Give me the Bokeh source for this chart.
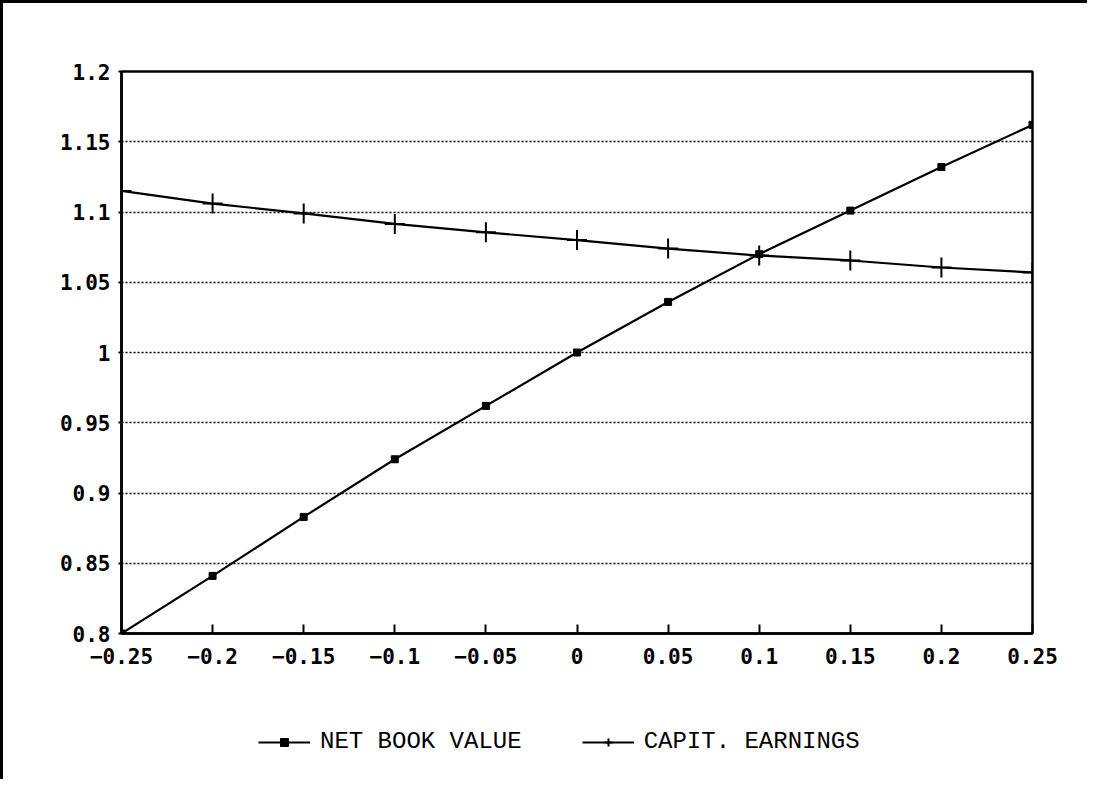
from bokeh.plotting import figure
from bokeh.models import Legend, LegendItem, FixedTicker, Range1d
from bokeh.layouts import column
from bokeh.embed import file_html
from bokeh.resources import INLINE

x_vals = [-0.25, -0.2, -0.15, -0.1, -0.05, 0.0, 0.05, 0.1, 0.15, 0.2, 0.25]
net_book_value = [0.800, 0.841, 0.883, 0.924, 0.962, 1.000, 1.036, 1.070, 1.101, 1.132, 1.162]
capit_earnings = [1.115, 1.106, 1.099, 1.0915, 1.0855, 1.080, 1.074, 1.069, 1.0655, 1.0605, 1.057]
x_ticks = [-0.25, -0.2, -0.15, -0.1, -0.05, 0.0, 0.05, 0.1, 0.15, 0.2, 0.25]
y_ticks = [0.8, 0.85, 0.9, 0.95, 1.0, 1.05, 1.1, 1.15, 1.2]
x_labels = {-0.25: "\u22120.25", -0.2: "\u22120.2", -0.15: "\u22120.15", -0.1: "\u22120.1",
            -0.05: "\u22120.05", 0.0: "0", 0.05: "0.05", 0.1: "0.1", 0.15: "0.15",
            0.2: "0.2", 0.25: "0.25"}
y_labels = {0.8: "0.8", 0.85: "0.85", 0.9: "0.9", 0.95: "0.95", 1.0: "1",
            1.05: "1.05", 1.1: "1.1", 1.15: "1.15", 1.2: "1.2"}
series_names = ["NET BOOK VALUE", "CAPIT. EARNINGS"]

W = 1084
p = figure(width=W, height=680, output_backend="svg", toolbar_location=None,
           x_range=Range1d(-0.25, 0.25), y_range=Range1d(0.8, 1.2),
           min_border_left=118, min_border_right=55, min_border_top=68, min_border_bottom=50)

p.outline_line_color = "black"
p.outline_line_width = 2.5
p.background_fill_color = "white"
p.border_fill_color = "white"

p.xgrid.visible = False
p.ygrid.ticker = FixedTicker(ticks=y_ticks)
p.ygrid.grid_line_color = "black"
p.ygrid.grid_line_dash = "2 2"
p.ygrid.grid_line_width = 1.5

tick_font = "DejaVu Sans Mono"
for ax in (p.xaxis[0], p.yaxis[0]):
    ax.axis_line_color = "black"
    ax.axis_line_width = 2.5
    ax.minor_tick_line_color = None
    ax.major_tick_line_color = "black"
    ax.major_tick_line_width = 2
    ax.major_label_text_font = tick_font
    ax.major_label_text_font_size = "21px"
    ax.major_label_text_font_style = "bold"
    ax.major_label_text_color = "black"

p.xaxis.ticker = FixedTicker(ticks=x_ticks)
p.xaxis.major_label_overrides = x_labels
p.xaxis.major_tick_in = 9
p.xaxis.major_tick_out = 0
p.xaxis.major_label_standoff = 14

p.yaxis.ticker = FixedTicker(ticks=y_ticks)
p.yaxis.major_label_overrides = y_labels
p.yaxis.major_tick_in = 0
p.yaxis.major_tick_out = 3
p.yaxis.major_label_standoff = 8

p.line(x_vals, net_book_value, line_color="black", line_width=2.2)
p.scatter(x_vals, net_book_value, marker="square", size=7, fill_color="black", line_color="black")
p.line(x_vals, capit_earnings, line_color="black", line_width=2.2)
p.scatter(x_vals, capit_earnings, marker="cross", size=20, line_color="black", line_width=2)

# legend strip below the chart
q = figure(width=W, height=96, output_backend="svg", toolbar_location=None,
           x_range=Range1d(0, 1), y_range=Range1d(0, 1),
           min_border_left=0, min_border_right=0, min_border_top=0, min_border_bottom=0)
q.axis.visible = False
q.grid.visible = False
q.outline_line_color = None
q.background_fill_color = "white"
q.border_fill_color = "white"
off = [5.0, 6.0]
a1 = q.line(off, off, line_color="black", line_width=2.2)
b1 = q.scatter(off, off, marker="square", size=7, fill_color="black", line_color="black")
a2 = q.line(off, off, line_color="black", line_width=2.2)
b2 = q.scatter(off, off, marker="cross", size=19, line_color="black", line_width=2)

legend = Legend(items=[LegendItem(label=series_names[0], renderers=[a1, b1]),
                       LegendItem(label=series_names[1], renderers=[a2, b2])],
                orientation="horizontal", location=(137, 24),
                label_text_font="Liberation Mono", label_text_font_size="24px",
                label_text_color="black", glyph_width=52, glyph_height=20,
                spacing=60, label_standoff=10, border_line_color=None,
                background_fill_alpha=0, margin=0, padding=0)
q.add_layout(legend, "center")

layout = column(p, q, spacing=0)
layout.styles = {"border-top": "3px solid black", "border-left": "3px solid black"}

open("out.html", "w").write(file_html(layout, INLINE))
